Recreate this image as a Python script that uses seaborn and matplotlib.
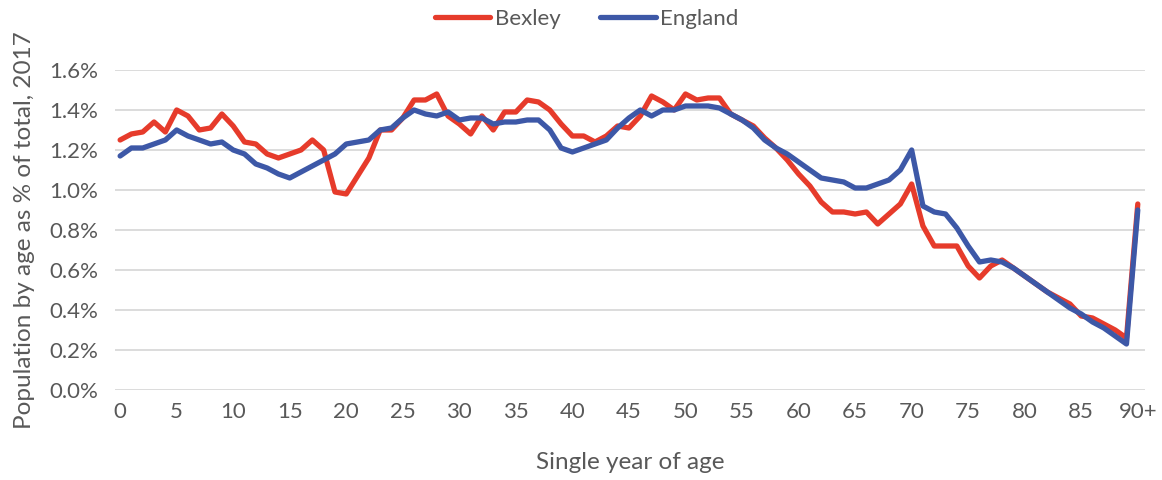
import matplotlib
matplotlib.use("Agg")
import matplotlib.pyplot as plt
import numpy as np
import pandas as pd
import seaborn as sns

ages = list(range(91))
age_labels = [str(a) for a in range(0, 90, 5)] + ["90+"]

bexley = [
    1.25, 1.28, 1.29, 1.34, 1.29, 1.40, 1.37, 1.30, 1.31, 1.38,
    1.32, 1.24, 1.23, 1.18, 1.16, 1.18, 1.20, 1.25, 1.20, 0.99,
    0.98, 1.07, 1.16, 1.30, 1.30, 1.36, 1.45, 1.45, 1.48, 1.37,
    1.33, 1.28, 1.37, 1.30, 1.39, 1.39, 1.45, 1.44, 1.40, 1.33,
    1.27, 1.27, 1.24, 1.27, 1.32, 1.31, 1.37, 1.47, 1.44, 1.40,
    1.48, 1.45, 1.46, 1.46, 1.38, 1.35, 1.32, 1.26, 1.21, 1.15,
    1.08, 1.02, 0.94, 0.89, 0.89, 0.88, 0.89, 0.83, 0.88, 0.93,
    1.03, 0.82, 0.72, 0.72, 0.72, 0.62, 0.56, 0.62, 0.65, 0.61,
    0.57, 0.53, 0.49, 0.46, 0.43, 0.37, 0.36, 0.33, 0.30, 0.26,
    0.93,
]

england = [
    1.17, 1.21, 1.21, 1.23, 1.25, 1.30, 1.27, 1.25, 1.23, 1.24,
    1.20, 1.18, 1.13, 1.11, 1.08, 1.06, 1.09, 1.12, 1.15, 1.18,
    1.23, 1.24, 1.25, 1.30, 1.31, 1.36, 1.40, 1.38, 1.37, 1.39,
    1.35, 1.36, 1.36, 1.33, 1.34, 1.34, 1.35, 1.35, 1.30, 1.21,
    1.19, 1.21, 1.23, 1.25, 1.31, 1.36, 1.40, 1.37, 1.40, 1.40,
    1.42, 1.42, 1.42, 1.41, 1.38, 1.35, 1.31, 1.25, 1.21, 1.18,
    1.14, 1.10, 1.06, 1.05, 1.04, 1.01, 1.01, 1.03, 1.05, 1.10,
    1.20, 0.92, 0.89, 0.88, 0.81, 0.72, 0.64, 0.65, 0.64, 0.61,
    0.57, 0.53, 0.49, 0.45, 0.41, 0.38, 0.34, 0.31, 0.27, 0.23,
    0.90,
]

df = pd.DataFrame({
    "age": ages * 2,
    "share": bexley + england,
    "area": ["Bexley"] * len(ages) + ["England"] * len(ages),
})

sns.set_theme(style="white")
plt.rcParams["font.family"] = ["Lato", "DejaVu Sans"]

fig = plt.figure(figsize=(11.62, 4.8), dpi=100)
ax = fig.add_axes([0.099, 0.1875, 0.886, 0.6667])

palette = {"Bexley": "#E63B2B", "England": "#3D58A7"}
sns.lineplot(data=df, x="age", y="share", hue="area", palette=palette,
             linewidth=3.8, ax=ax, legend=True)

ax.set_xlim(-0.45, 90.6)
ax.set_ylim(0, 1.6)
ax.set_yticks(np.arange(0, 1.61, 0.2))
ax.set_yticklabels([f"{v:.1f}%" for v in np.arange(0, 1.61, 0.2)])
ax.set_xticks(list(range(0, 91, 5)))
ax.set_xticklabels(age_labels)
ax.grid(axis="y", color="#D9D9D9", linewidth=1.3)
ax.set_axisbelow(True)
for s in ax.spines.values():
    s.set_visible(False)
ax.tick_params(axis="both", length=0, labelsize=16, colors="#595959")
ax.tick_params(axis="x", pad=9)
ax.tick_params(axis="y", pad=12)

ax.set_xlabel("Single year of age", fontsize=17.5, color="#595959", labelpad=21)
ax.set_ylabel("Population by age as % of total, 2017", fontsize=17.5,
              color="#595959", labelpad=10)

handles, labels = ax.get_legend_handles_labels()
ax.legend(handles, labels, loc="center", bbox_to_anchor=(0.458, 1.16),
          ncol=2, frameon=False, fontsize=16, handlelength=2.5,
          handletextpad=0.2, columnspacing=1.8, labelcolor="#595959")

fig.savefig("out.png", dpi=100)
